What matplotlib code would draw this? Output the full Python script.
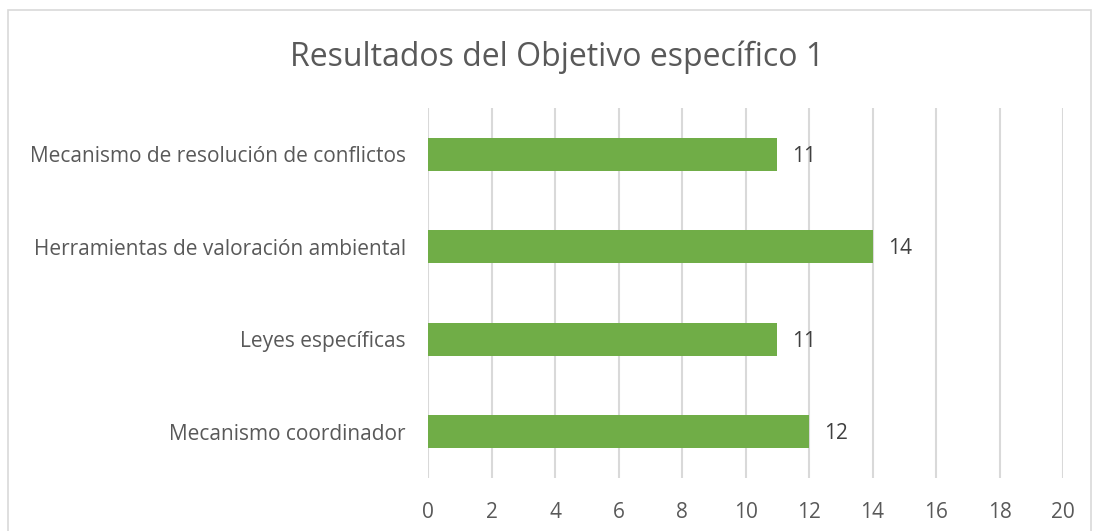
import matplotlib
matplotlib.use('Agg')
from matplotlib import pyplot as plt
from matplotlib import patches

# Data
categories = ['Mecanismo coordinador', 'Leyes específicas',
              'Herramientas de valoración ambiental',
              'Mecanismo de resolución de conflictos']
values = [12, 11, 14, 11]
xticks = list(range(0, 21, 2))

green = '#70AD47'
text_col = '#595959'
grid_col = '#D9D9D9'

plt.rcParams['font.family'] = ['Open Sans', 'DejaVu Sans']

fig = plt.figure(figsize=(10.94, 5.31), dpi=100)
ax = fig.add_axes([428 / 1094, 1 - 478 / 531, 635 / 1094, 370 / 531])

ypos = list(range(len(categories)))
ax.barh(ypos, values, height=0.355, color=green, zorder=3)
for y, v in zip(ypos, values):
    ax.annotate(str(v), (v, y), xytext=(11, -1.5), textcoords='offset points',
                va='center', ha='left', fontsize=15, color='#404040')

ax.set_xlim(0, 20)
ax.set_ylim(-0.5, len(categories) - 0.5)
ax.set_xticks(xticks)
ax.set_yticks(ypos)
ax.set_yticklabels(categories)
ax.tick_params(axis='both', length=0, labelsize=15, labelcolor=text_col)
ax.tick_params(axis='x', pad=17)
ax.tick_params(axis='y', pad=16)
ax.grid(axis='x', color=grid_col, linewidth=1.5, zorder=0)
for s in ax.spines.values():
    s.set_visible(False)

fig.text(557 / 1094, 1 - 57 / 531, 'Resultados del Objetivo específico 1',
         ha='center', va='center', fontsize=23, color=text_col)

# chart area border
fig.patches.append(patches.Rectangle((8 / 1094, -0.01), 1083 / 1094, 1 - 10 / 531 + 0.01,
                                     transform=fig.transFigure, fill=False,
                                     edgecolor='#D9D9D9', linewidth=1.2))

fig.savefig('out.png', dpi=100)
